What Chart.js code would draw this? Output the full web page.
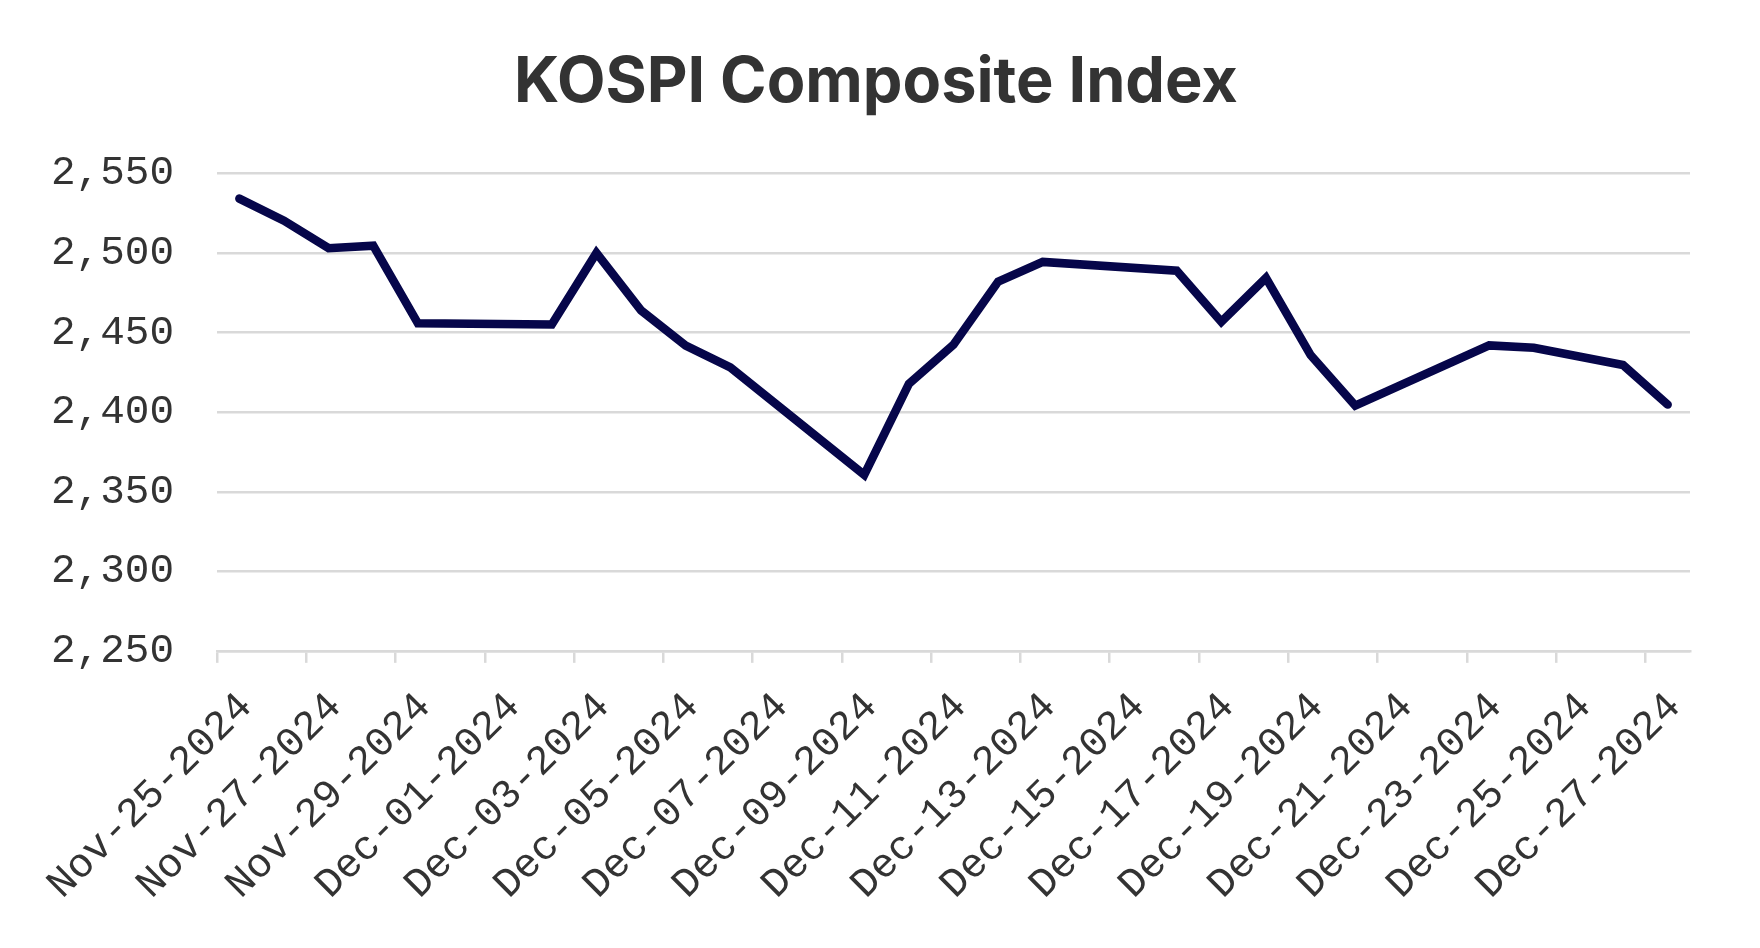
<!DOCTYPE html>
<html>
<head>
<meta charset="utf-8">
<script src="https://cdn.jsdelivr.net/npm/chart.js@4.4.1/dist/chart.umd.min.js"></script>
<style>
  html, body { margin: 0; padding: 0; background: #ffffff; }
  #wrap { width: 1760px; height: 948px; }
</style>
</head>
<body>
<div id="wrap"><canvas id="c" width="1760" height="948"></canvas></div>
<script>
// ---- data (closing values, plotted at midday of each trading day) ----
const chartTitle = 'KOSPI Composite Index';
const tradeDates = [
  '2024-11-25T12:00', '2024-11-26T12:00', '2024-11-27T12:00', '2024-11-28T12:00', '2024-11-29T12:00',
  '2024-12-02T12:00', '2024-12-03T12:00', '2024-12-04T12:00', '2024-12-05T12:00', '2024-12-06T12:00',
  '2024-12-09T12:00', '2024-12-10T12:00', '2024-12-11T12:00', '2024-12-12T12:00', '2024-12-13T12:00',
  '2024-12-16T12:00', '2024-12-17T12:00', '2024-12-18T12:00', '2024-12-19T12:00', '2024-12-20T12:00',
  '2024-12-23T12:00', '2024-12-24T12:00', '2024-12-26T12:00', '2024-12-27T12:00'
];
const closeValues = [
  2534.3, 2520.4, 2503.1, 2504.7, 2455.9,
  2455.2, 2500.1, 2464.0, 2441.9, 2428.2,
  2360.6, 2417.8, 2442.5, 2482.1, 2494.5,
  2489.0, 2456.8, 2484.4, 2435.9, 2404.2,
  2442.0, 2440.5, 2429.7, 2404.8
];
const xTickLabels = [
  'Nov-25-2024', 'Nov-27-2024', 'Nov-29-2024', 'Dec-01-2024', 'Dec-03-2024', 'Dec-05-2024',
  'Dec-07-2024', 'Dec-09-2024', 'Dec-11-2024', 'Dec-13-2024', 'Dec-15-2024', 'Dec-17-2024',
  'Dec-19-2024', 'Dec-21-2024', 'Dec-23-2024', 'Dec-25-2024', 'Dec-27-2024'
];
const axisStart = '2024-11-25T00:00';
const axisEnd = '2024-12-28T00:00';
const tickStepDays = 2;
const yTickValues = [2250, 2300, 2350, 2400, 2450, 2500, 2550];

// ---- helpers ----
const DAY = 86400000;
const toDays = s => (Date.parse(s + 'Z') - Date.parse(axisStart + 'Z')) / DAY;
const points = tradeDates.map((d, i) => ({ x: toDays(d), y: closeValues[i] }));
const fmt = v => v.toLocaleString('en-US');

const GRID = '#d9d9d9';
const TEXT = '#333333';
const MONO = '"Liberation Mono", "DejaVu Sans Mono", monospace';

// centre the title on the whole canvas rather than on the padded layout box
const centreTitle = {
  id: 'centreTitle',
  afterLayout(chart) {
    const t = chart.titleBlock;
    if (t) { t.left = 0; t.right = chart.width - 8; t.width = t.right - t.left; }
  }
};

new Chart(document.getElementById('c'), {
  type: 'line',
  data: {
    datasets: [{
      data: points,
      borderColor: '#06064a',
      borderWidth: 8.5,
      borderCapStyle: 'round',
      borderJoinStyle: 'miter',
      pointRadius: 0,
      tension: 0,
      fill: false
    }]
  },
  plugins: [centreTitle],
  options: {
    responsive: false,
    animation: false,
    devicePixelRatio: 1,
    layout: { padding: { left: 8, right: 70, top: 0, bottom: 19 } },
    plugins: {
      legend: { display: false },
      tooltip: { enabled: false },
      title: {
        display: true,
        text: chartTitle,
        color: TEXT,
        font: { family: 'Inter, Roboto, sans-serif', size: 63, weight: '700', lineHeight: 1.2 },
        padding: { top: 45, bottom: 53 }
      }
    },
    scales: {
      x: {
        type: 'linear',
        min: 0,
        max: toDays(axisEnd),
        afterBuildTicks: (scale) => {
          scale.ticks = xTickLabels.map((_, i) => ({ value: i * tickStepDays }));
        },
        grid: {
          drawOnChartArea: false,
          drawTicks: true,
          tickLength: 12,
          color: GRID,
          lineWidth: 2.5
        },
        border: { display: true, color: GRID, width: 2.5 },
        ticks: {
          autoSkip: false,
          minRotation: 45,
          maxRotation: 45,
          padding: 20,
          labelOffset: 29,
          color: TEXT,
          font: { family: MONO, size: 41 },
          callback: (v, i) => xTickLabels[i]
        }
      },
      y: {
        type: 'linear',
        min: yTickValues[0],
        max: yTickValues[yTickValues.length - 1],
        afterBuildTicks: (scale) => {
          scale.ticks = yTickValues.map(v => ({ value: v }));
        },
        grid: {
          drawTicks: false,
          color: GRID,
          lineWidth: 2.5
        },
        border: { display: false },
        ticks: {
          padding: 43,
          color: TEXT,
          font: { family: MONO, size: 41 },
          callback: v => fmt(v)
        }
      }
    }
  }
});
</script>
</body>
</html>
